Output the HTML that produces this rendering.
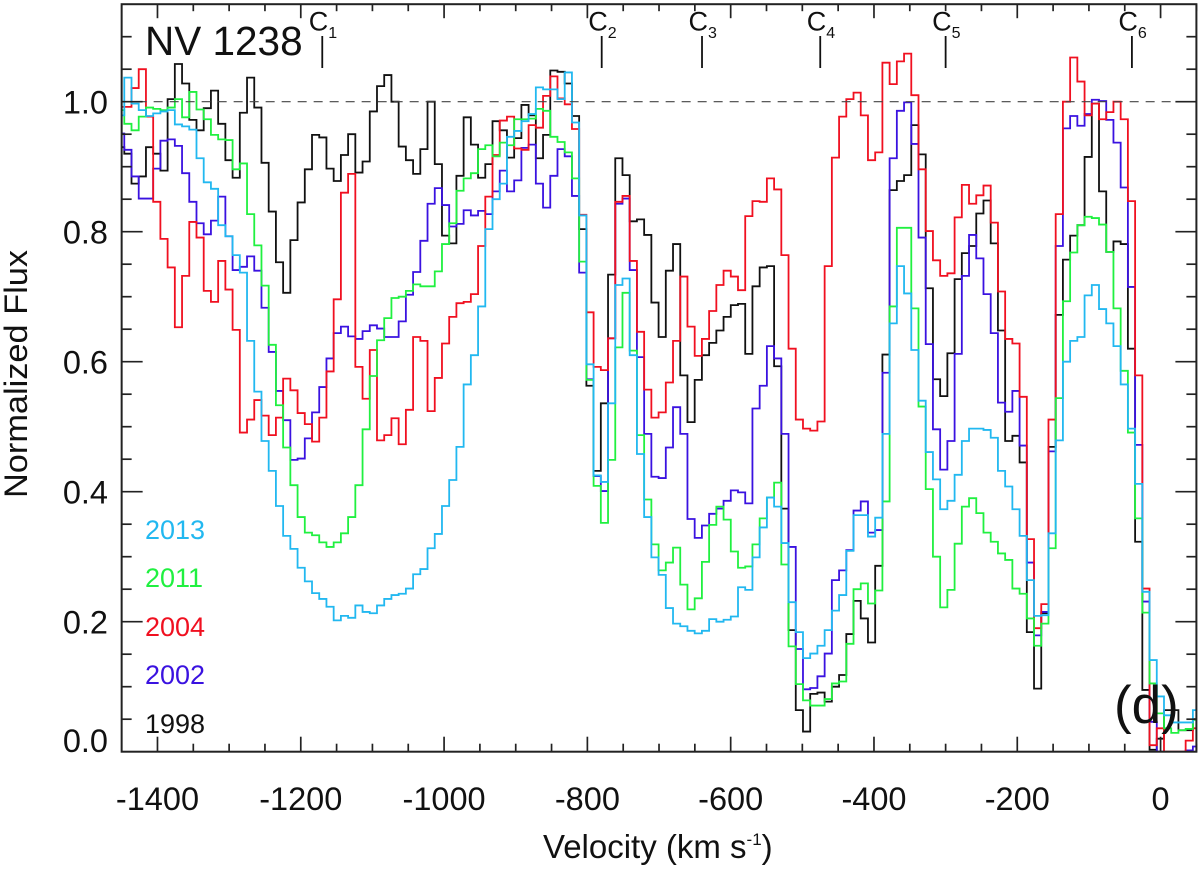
<!DOCTYPE html>
<html lang="en">
<head>
<meta charset="utf-8">
<title>NV 1238 normalized flux</title>
<style>
html,body{margin:0;padding:0;background:#fff;}
svg{display:block;font-family:"Liberation Sans",sans-serif;}
</style>
</head>
<body>
<svg id="chart" xmlns="http://www.w3.org/2000/svg" width="1200" height="869" viewBox="0 0 1200 869">
  <defs><clipPath id="plot-clip"><rect x="121.6" y="4.2" width="1074.8" height="747.5"/></clipPath></defs>
  <rect width="1200" height="869" fill="#fff"/>
  <g id="series-layer" clip-path="url(#plot-clip)"></g>
  <g id="reference-layer"></g>
  <g id="axis-layer"></g>
  <g id="marker-layer"></g>
  <text x="145" y="55" font-size="40.5" fill="#111">NV 1238</text>
  <text x="1114" y="723" font-size="53" fill="#111">(d)</text>
  <text transform="translate(27,498) rotate(-90)" font-size="32" textLength="248" lengthAdjust="spacingAndGlyphs" fill="#111">Normalized Flux</text>
  <text x="543" y="858" font-size="33" fill="#111">Velocity (km s<tspan font-size="17" dy="-13">-1</tspan><tspan dy="13">)</tspan></text>
  <g font-size="27">
    <text x="145" y="539" fill="#22b8f0">2013</text>
    <text x="145" y="587" fill="#20f040">2011</text>
    <text x="145" y="636" fill="#f01020">2004</text>
    <text x="145" y="684" fill="#3a12e0">2002</text>
    <text x="145" y="733" fill="#111">1998</text>
  </g>
</svg>
<script>
const binStartVelocity = -1456.4;
const binWidthVelocity = 10.077;
const flux1998 = [
.93,.92,.874,.885,.93,.92,.894,1.004,1.058,1.028,
.972,.956,.99,1.017,.966,.91,.883,.983,1.037,.991,
.906,.831,.753,.706,.787,.845,.896,.949,.945,.897,
.878,.918,.95,.891,.908,.985,1.024,1.041,1.0,.931,
.91,.889,.927,1.0,.904,.794,.782,.886,.976,.934,
.883,.904,.97,.956,.914,.944,.995,.979,.913,.949,
1.048,1.046,1.028,.978,.804,.563,.432,.536,.734,.913,
.887,.816,.819,.795,.691,.638,.74,.781,.579,.507,
.572,.61,.629,.648,.669,.687,.689,.612,.716,.745,
.747,.593,.374,.187,.064,.031,.089,.091,.077,.1,
.118,.181,.232,.205,.168,.286,.611,.864,.878,.887,
.964,.919,.713,.573,.547,.613,.727,.767,.778,.828,
.848,.782,.648,.478,.486,.445,.184,.097,.213,.469,
.672,.757,.794,.81,.915,.997,.862,.769,.785,.781,
.62,.323,.095,.003,.02,.064,.064,.033,.033,.05];
const flux2002 = [
.951,.926,.885,.851,.851,.897,.94,.942,.932,.89,
.846,.813,.796,.817,.854,.793,.741,.746,.762,.74,
.683,.615,.555,.51,.449,.451,.482,.522,.561,.605,
.644,.654,.639,.635,.647,.656,.651,.638,.638,.662,
.703,.738,.786,.843,.867,.841,.808,.812,.833,.825,
.832,.827,.862,.894,.862,.879,.929,.934,.874,.837,
.886,.927,.916,.855,.737,.573,.424,.401,.636,.843,
.851,.741,.607,.489,.423,.421,.468,.53,.489,.358,
.329,.348,.366,.374,.386,.402,.399,.382,.528,.563,
.624,.605,.489,.315,.158,.096,.098,.116,.151,.264,
.279,.31,.371,.385,.337,.341,.583,.913,.986,.999,
.935,.791,.627,.496,.434,.478,.612,.732,.795,.759,
.704,.644,.537,.523,.555,.471,.291,.179,.215,.462,
.778,.959,.978,.963,.981,1.003,1.001,.972,.937,.868,
.715,.472,.231,.046,0,-.01,-.01,-.01,.002,.008];
const flux2004 = [
.992,.992,1.021,1.05,.977,.846,.789,.745,.653,.732,
.815,.791,.709,.692,.755,.711,.649,.491,.511,.541,
.517,.487,.514,.574,.556,.521,.504,.477,.514,.585,
.696,.86,.889,.592,.543,.618,.479,.487,.513,.473,
.526,.638,.632,.524,.575,.628,.669,.69,.692,.704,
.778,.854,.918,.971,.977,.928,.926,.964,.96,1.009,
1.039,1.005,.996,.958,.826,.676,.592,.587,.636,.846,
.855,.755,.646,.557,.514,.522,.568,.632,.731,.654,
.609,.635,.678,.718,.74,.731,.71,.824,.847,.846,
.882,.865,.764,.62,.511,.497,.494,.508,.747,.914,
.977,1.004,1.014,.979,.91,.922,1.06,1.027,1.062,1.074,
1.01,.896,.801,.756,.732,.736,.822,.872,.843,.856,
.871,.814,.708,.635,.628,.546,.327,.19,.227,.511,
.827,1.0,1.068,1.031,.979,.997,.973,.984,1.0,.973,
.847,.579,.251,.01,.036,0,0,0,.017,.036];
const flux2011 = [
.987,.966,.956,.977,.991,.989,.987,.991,1.004,.976,
1.015,.988,.973,.949,.942,.941,.896,.905,.827,.779,
.717,.626,.533,.468,.41,.361,.337,.333,.322,.315,
.322,.336,.361,.41,.496,.578,.633,.667,.698,.7,
.709,.719,.716,.716,.739,.781,.813,.863,.882,.89,
.927,.933,.916,.937,.933,.973,.973,.974,.989,.986,
.946,.938,.922,.882,.754,.572,.409,.352,.449,.622,
.706,.617,.487,.388,.319,.279,.291,.314,.257,.219,
.236,.292,.349,.377,.357,.308,.283,.285,.319,.359,
.391,.414,.288,.162,.104,.079,.071,.071,.081,.105,
.108,.166,.25,.259,.228,.248,.385,.685,.806,.806,
.682,.531,.404,.3,.222,.249,.32,.377,.39,.367,
.337,.323,.305,.295,.251,.243,.205,.163,.197,.313,
.544,.693,.768,.81,.823,.821,.811,.769,.682,.586,
.491,.359,.214,.105,.059,.036,.029,.033,.035,.049];
const flux2013 = [
.979,1.037,.997,.987,.978,.982,.985,.987,.965,.962,
.957,.913,.876,.866,.81,.793,.764,.737,.632,.554,
.478,.432,.378,.332,.312,.283,.262,.244,.235,.223,
.202,.209,.206,.225,.215,.213,.225,.235,.241,.243,
.251,.273,.281,.313,.335,.378,.418,.469,.565,.61,
.685,.804,.85,.874,.946,.955,.97,.981,1.022,1.019,
1.019,1.004,1.045,.968,.825,.596,.425,.415,.536,.718,
.728,.61,.458,.361,.299,.272,.221,.197,.193,.186,
.182,.186,.204,.2,.203,.208,.253,.249,.299,.345,
.391,.377,.321,.23,.184,.144,.151,.163,.187,.217,
.241,.309,.364,.364,.331,.36,.489,.659,.747,.705,
.618,.54,.461,.419,.373,.386,.426,.478,.497,.497,
.495,.483,.432,.408,.373,.332,.264,.209,.21,.336,
.479,.6,.632,.638,.702,.718,.681,.659,.624,.565,
.497,.412,.246,.141,.085,.056,.045,.045,.045,.064];
const xTickLabels = [-1400,-1200,-1000,-800,-600,-400,-200,0];
const yTickLabels = ["0.0","0.2","0.4","0.6","0.8","1.0"];
const componentNames = ["1","2","3","4","5","6"];
const componentVelocities = [-1170,-780,-640,-475,-300,-40];

const NS = "http://www.w3.org/2000/svg";
const xDomain = [-1450, 50], xRange = [121.65, 1196.4];
const yDomain = [0, 1.15], yRange = [751.7, 4.2];
function xScale(v){ return xRange[0] + (v - xDomain[0]) * (xRange[1] - xRange[0]) / (xDomain[1] - xDomain[0]); }
function yScale(f){ return yRange[0] + (f - yDomain[0]) * (yRange[1] - yRange[0]) / (yDomain[1] - yDomain[0]); }
function make(tag, attrs, parent){
  const el = document.createElementNS(NS, tag);
  for (const k in attrs) el.setAttribute(k, attrs[k]);
  parent.appendChild(el);
  return el;
}
function stepPath(values){
  let d = "";
  values.forEach(function(f, i){
    const x0 = xScale(binStartVelocity + i * binWidthVelocity).toFixed(2);
    const x1 = xScale(binStartVelocity + (i + 1) * binWidthVelocity).toFixed(2);
    const y = yScale(f).toFixed(2);
    d += (i === 0 ? "M" : "L") + x0 + " " + y + "L" + x1 + " " + y;
  });
  return d;
}

const seriesLayer = document.getElementById("series-layer");
[[flux1998,"#111111","1998"],[flux2002,"#3a12e0","2002"],[flux2004,"#f01020","2004"],[flux2011,"#20f040","2011"],[flux2013,"#22b8f0","2013"]].forEach(function(s){
  const p = make("path", {d: stepPath(s[0]), fill: "none", stroke: s[1], "stroke-width": 1.8, "stroke-linejoin": "miter"}, seriesLayer);
  
  
  p.setAttribute('data-year', s[2]);
});

const refLayer = document.getElementById("reference-layer");
const refLine = make("line", {x1: xRange[0], x2: 1176, y1: yScale(1), y2: yScale(1), stroke: "#444", "stroke-width": 1.2, "stroke-dasharray": "9 7"}, refLayer);



const axisLayer = document.getElementById("axis-layer");
const frame = make("rect", {x: xRange[0], y: yRange[1], width: xRange[1] - xRange[0], height: yRange[0] - yRange[1], fill: "none", stroke: "#222", "stroke-width": 2}, axisLayer);



for (let v = -1400; v <= 50; v += 50) {
  const major = v % 200 === 0;
  const x = xScale(v);
  const lenB = major ? 15 : 8, lenT = major ? 14 : 7;
  const bt = make("line", {x1: x, x2: x, y1: yRange[0], y2: yRange[0] - lenB, stroke: "#222", "stroke-width": 1.7}, axisLayer);
  
  
  const tt = make("line", {x1: x, x2: x, y1: yRange[1], y2: yRange[1] + lenT, stroke: "#222", "stroke-width": 1.7}, axisLayer);
  
  
}
for (let n = 1; n <= 22; n++) {
  const f = n * 0.05;
  const major = n % 4 === 0;
  const y = yScale(f);
  const len = major ? 21 : 10;
  const lt = make("line", {x1: xRange[0], x2: xRange[0] + len, y1: y, y2: y, stroke: "#222", "stroke-width": 1.7}, axisLayer);
  
  
  const rt = make("line", {x1: xRange[1], x2: xRange[1] - len, y1: y, y2: y, stroke: "#222", "stroke-width": 1.7}, axisLayer);
  
  
}
xTickLabels.forEach(function(v){
  const t = make("text", {x: xScale(v), y: 810, "font-size": 32.5, "text-anchor": "middle", fill: "#111"}, axisLayer);
  
  
  t.textContent = String(v);
});
yTickLabels.forEach(function(lab){
  const f = parseFloat(lab);
  const t = make("text", {x: 108, y: f === 0 ? 752 : yScale(f) + 12, "font-size": 32.5, "text-anchor": "end", fill: "#111"}, axisLayer);
  
  
  t.textContent = lab;
});

const markerLayer = document.getElementById("marker-layer");
componentVelocities.forEach(function(v, i){
  const x = xScale(v);
  const ln = make("line", {x1: x, x2: x, y1: 36, y2: 68, stroke: "#111", "stroke-width": 1.8}, markerLayer);
  
  
  const c = make("text", {x: x - 13.5, y: 30.5, "font-size": 27, fill: "#111"}, markerLayer);
  
  
  c.textContent = "C";
  const sub = make("text", {x: x + 6, y: 38, "font-size": 16, fill: "#111"}, markerLayer);
  
  
  sub.textContent = componentNames[i];
});
</script>
</body>
</html>
